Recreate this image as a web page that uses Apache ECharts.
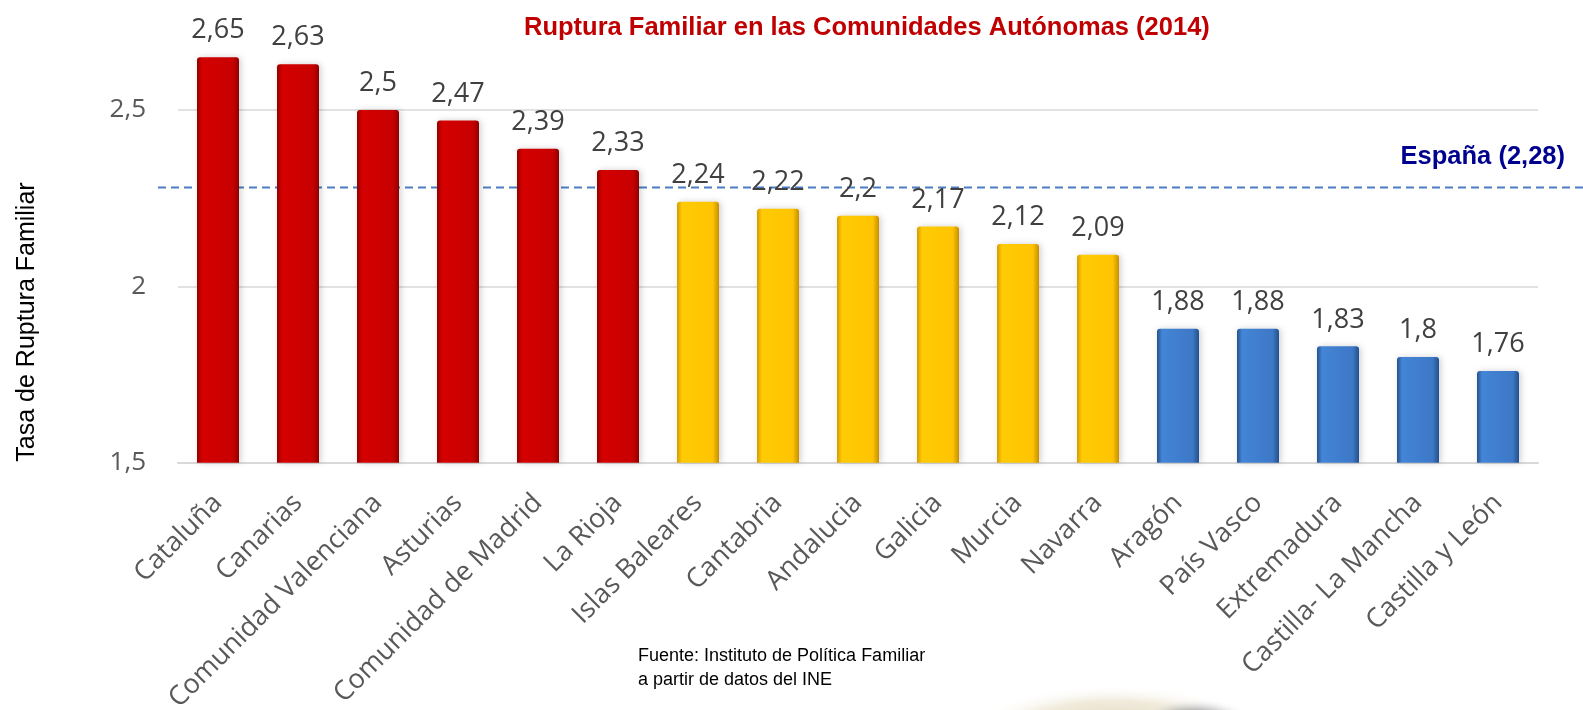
<!DOCTYPE html>
<html>
<head>
<meta charset="utf-8">
<script src="https://cdn.jsdelivr.net/npm/echarts@6/dist/echarts.min.js"></script>
<style>html,body{margin:0;padding:0;background:#fff;}#c{width:1583px;height:710px;}</style>
</head>
<body>
<div id="c"></div>
<script>
var categories = ['Cataluña','Canarias','Comunidad Valenciana','Asturias','Comunidad de Madrid','La Rioja','Islas Baleares','Cantabria','Andalucia','Galicia','Murcia','Navarra','Aragón','País Vasco','Extremadura','Castilla- La Mancha','Castilla y León'];
var values = [2.65, 2.63, 2.5, 2.47, 2.39, 2.33, 2.24, 2.22, 2.2, 2.17, 2.12, 2.09, 1.88, 1.88, 1.83, 1.8, 1.76];
var groups = ['high','high','high','high','high','high','mid','mid','mid','mid','mid','mid','low','low','low','low','low'];
var spainValue = 2.28;
var yTicks = [1.5, 2, 2.5];

var palette = {
  high: ['#8E0000', '#D40000', '#C80000', '#8E0000'],
  mid:  ['#D79A00', '#FFCB05', '#FFC400', '#C88E00'],
  low:  ['#23508E', '#4485D6', '#3C78C6', '#23508E']
};
function fmt(v){ return String(v).replace('.', ','); }
function grad(g){
  var p = palette[g];
  return new echarts.graphic.LinearGradient(0,0,1,0,[
    {offset:0,color:p[0]},{offset:0.12,color:p[1]},{offset:0.85,color:p[2]},{offset:1,color:p[3]}
  ]);
}

var chart = echarts.init(document.getElementById('c'), null, {renderer:'canvas'});
var gridTop = 39.5, gridBottom = 247.3;
chart.setOption({
  animation: false,
  title: {
    text: 'Ruptura Familiar en las Comunidades Autónomas (2014)',
    left: 519, top: 10,
    textStyle: {fontFamily:'Liberation Sans, Arial, sans-serif', fontWeight:'bold', fontSize:25.5, color:'#C00000'}
  },
  grid: [
    {left:178, right:45, top:gridTop, bottom:gridBottom, containLabel:false, outerBoundsMode:'none'},
    {left:158, right:0, top:gridTop, bottom:gridBottom, containLabel:false, outerBoundsMode:'none'}
  ],
  xAxis: [
    {
      type:'category', data: categories, gridIndex:0,
      axisLine:{lineStyle:{color:'#D9D9D9', width:2}},
      axisTick:{show:false},
      axisLabel:{interval:0, rotate:45, margin:36, fontFamily:'Open Sans', fontSize:27, color:'#595959'}
    },
    {type:'value', gridIndex:1, min:0, max:1, show:false}
  ],
  yAxis: [
    {
      type:'value', gridIndex:0, min:yTicks[0], max:2.7, interval:0.5,
      axisLine:{show:false}, axisTick:{show:false},
      splitLine:{show:true, showMaxLine:false, lineStyle:{color:'#D9D9D9', width:1.5}},
      axisLabel:{showMaxLabel:false, margin:32, fontFamily:'Open Sans', fontSize:26, color:'#595959',
        formatter:function(v){ return fmt(v); }}
    },
    {type:'value', gridIndex:1, min:yTicks[0], max:2.7, show:false}
  ],
  series: [
    {
      type:'line', xAxisIndex:1, yAxisIndex:1, z:1,
      data:[[0, spainValue],[1, spainValue]],
      symbol:'none', silent:true,
      lineStyle:{color:'#4A7CC4', width:2, type:[8,5]}
    },
    {
      type:'bar', xAxisIndex:0, yAxisIndex:0, z:3,
      barWidth:'52.5%',
      data: values.map(function(v,i){
        return {value:v, itemStyle:{color:grad(groups[i])}};
      }),
      itemStyle:{borderRadius:[3,3,0,0], shadowColor:'rgba(0,0,0,0.18)', shadowBlur:6, shadowOffsetX:2},
      label:{show:true, position:'top', distance:13, fontFamily:'Open Sans', fontSize:27, color:'#404040',
        formatter:function(p){ return fmt(p.value); }}
    }
  ],
  graphic: [
    {
      type:'text', x:27, y:322, rotation:Math.PI/2,
      style:{text:'Tasa de Ruptura Familiar', fontFamily:'Liberation Sans, Arial, sans-serif', fontSize:25, fill:'#000', align:'center', verticalAlign:'middle'}
    },
    {
      type:'text', x:1565, y:157,
      style:{text:'España (' + fmt(spainValue) + ')', fontFamily:'Liberation Sans, Arial, sans-serif', fontWeight:'bold', fontSize:25.5, fill:'#000090', align:'right', verticalAlign:'middle'}
    },
    {
      type:'text', x:638, y:644,
      style:{text:'Fuente: Instituto de Política Familiar\na partir de datos del INE', fontFamily:'Liberation Sans, Arial, sans-serif', fontSize:18, lineHeight:24, fill:'#000', align:'left', verticalAlign:'top'}
    },
    {
      type:'circle', silent:true, z:-1, x:1115, y:730, scaleX:3.2, scaleY:1,
      shape:{cx:0, cy:0, r:45},
      style:{fill:new echarts.graphic.RadialGradient(0.5,0.5,0.5,[
        {offset:0,color:'rgba(215,200,165,0.9)'},{offset:0.65,color:'rgba(232,222,198,0.6)'},{offset:1,color:'rgba(255,255,255,0)'}
      ])}
    },
    {
      type:'circle', silent:true, z:-1, x:1195, y:726, scaleX:2.2, scaleY:1,
      shape:{cx:0, cy:0, r:28},
      style:{fill:new echarts.graphic.RadialGradient(0.5,0.5,0.5,[
        {offset:0,color:'rgba(55,60,70,0.9)'},{offset:0.5,color:'rgba(95,100,110,0.55)'},{offset:1,color:'rgba(255,255,255,0)'}
      ])}
    }
  ]
});
</script>
</body>
</html>
